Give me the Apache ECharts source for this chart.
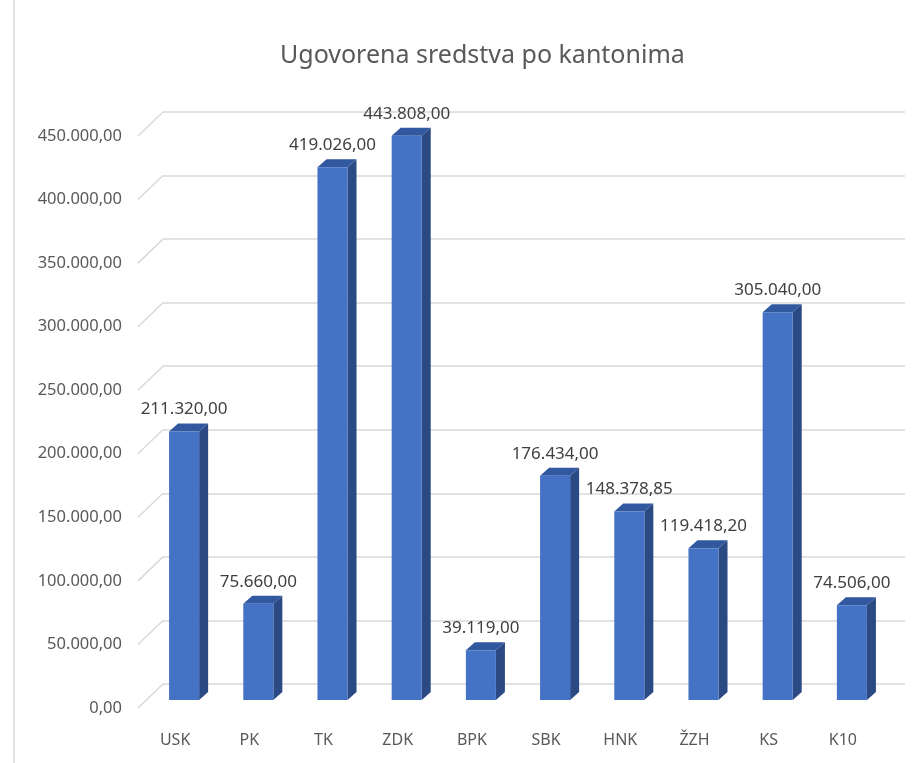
<!DOCTYPE html>
<html>
<head>
<meta charset="utf-8">
<script src="https://cdn.jsdelivr.net/npm/echarts@6/dist/echarts.min.js"></script>
<style>html,body{margin:0;padding:0;background:#fff;}#c{width:919px;height:763px;}</style>
</head>
<body>
<div id="c"></div>
<script>
var categories = ['USK', 'PK', 'TK', 'ZDK', 'BPK', 'SBK', 'HNK', 'ŽZH', 'KS', 'K10'];
var values = [211320, 75660, 419026, 443808, 39119, 176434, 148378.85, 119418.20, 305040, 74506];
var yTicks = [0, 50000, 100000, 150000, 200000, 250000, 300000, 350000, 400000, 450000];
var titleText = 'Ugovorena sredstva po kantonima';

function fmt(v) {
  var parts = v.toFixed(2).split('.');
  var intPart = parts[0].replace(/\B(?=(\d{3})+(?!\d))/g, '.');
  return intPart + ',' + parts[1];
}

var FONT = 'Noto Sans';
var DEPTH_X = 25, DEPTH_Y = 24;
var BAR_OFF_X = 9, BAR_OFF_Y = 8, BAR_DX = 9, BAR_DY = 8;

var chart = echarts.init(document.getElementById('c'));
chart.setOption({
  animation: false,
  backgroundColor: '#fff',
  title: {
    text: titleText, left: 275, top: 38,
    textStyle: { fontFamily: FONT, fontSize: 25, fontWeight: 'normal', color: '#595959' }
  },
  graphic: [{
    type: 'line', shape: { x1: 14, y1: 0, x2: 14, y2: 763 },
    style: { stroke: '#d9d9d9', lineWidth: 1.5 }
  }],
  grid: [
    { left: 138, right: 39, top: 136, bottom: 55 },
    { left: 138 + DEPTH_X, right: 39 - DEPTH_X, top: 136 - DEPTH_Y, bottom: 55 + DEPTH_Y }
  ],
  xAxis: [
    { type: 'category', data: categories, gridIndex: 0,
      axisLine: { show: false }, axisTick: { show: false },
      axisLabel: { color: '#595959', fontFamily: FONT, fontSize: 16, margin: 24 } },
    { type: 'category', data: categories, gridIndex: 1, show: false }
  ],
  yAxis: [
    { type: 'value', gridIndex: 0, min: 0, max: 450000, interval: 50000,
      axisLine: { show: false }, axisTick: { show: false }, splitLine: { show: false },
      axisLabel: { color: '#595959', fontFamily: FONT, fontSize: 16.5, margin: 16, padding: [4, 0, 0, 0], formatter: function (v) { return fmt(v); } } },
    { type: 'value', gridIndex: 1, min: 0, max: 450000, interval: 50000,
      axisLine: { show: false }, axisTick: { show: false }, axisLabel: { show: false },
      splitLine: { show: true, lineStyle: { color: '#d9d9d9', width: 1.5 } } }
  ],
  series: [
    {
      type: 'custom', xAxisIndex: 0, yAxisIndex: 0, z: 1, silent: true,
      data: yTicks,
      renderItem: function (params, api) {
        var x0 = params.coordSys.x;
        var y = api.coord([0, api.value(0)])[1];
        return { type: 'line', shape: { x1: x0, y1: y, x2: x0 + DEPTH_X, y2: y - DEPTH_Y },
          style: { stroke: '#d9d9d9', lineWidth: 1.5 } };
      },
      encode: { y: 0 }
    },
    {
      type: 'custom', xAxisIndex: 0, yAxisIndex: 0, z: 3, silent: true,
      data: values.map(function (v, i) { return [i, v]; }),
      renderItem: function (params, api) {
        var i = api.value(0), v = api.value(1);
        var top = api.coord([i, v]);
        var base = api.coord([i, 0]);
        var w = api.size([1, 0])[0] * 0.405;
        var cx = top[0] + BAR_OFF_X;
        var x1 = cx - w / 2, x2 = cx + w / 2;
        var yt = top[1] - BAR_OFF_Y, yb = base[1] - BAR_OFF_Y;
        return {
          type: 'group',
          children: [
            { type: 'polygon', shape: { points: [[x2, yt], [x2 + BAR_DX, yt - BAR_DY], [x2 + BAR_DX, yb - BAR_DY], [x2, yb]] },
              style: { fill: '#2b4a84' } },
            { type: 'polygon', shape: { points: [[x1, yt], [x1 + BAR_DX, yt - BAR_DY], [x2 + BAR_DX, yt - BAR_DY], [x2, yt]] },
              style: { fill: '#32589f' } },
            { type: 'rect', shape: { x: x1, y: yt, width: w, height: yb - yt },
              style: { fill: '#4472c4' } },
            { type: 'text', x: cx, y: yt - BAR_DY - 14,
              style: { text: fmt(v), fill: '#404040', font: '17px "' + FONT + '"', align: 'center', verticalAlign: 'middle' } }
          ]
        };
      },
      encode: { x: 0, y: 1 }
    }
  ]
});
</script>
</body>
</html>
